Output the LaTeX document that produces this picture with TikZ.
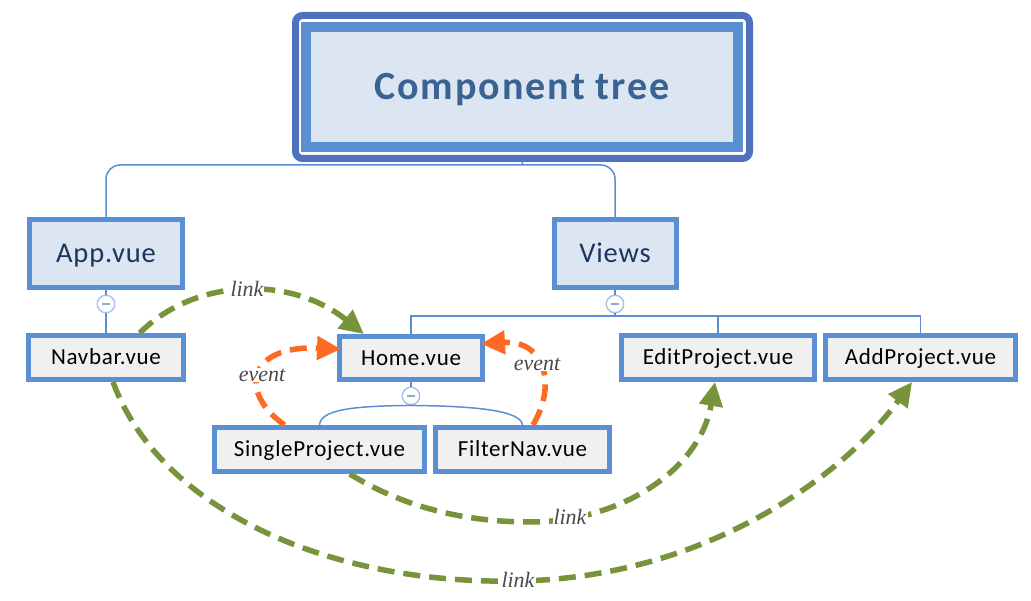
\documentclass[tikz,border=0pt]{standalone}
\usepackage{fontspec}
\setmainfont{Carlito}[LetterSpace=3]
\newfontfamily\rootfont{Carlito}[LetterSpace=5]
\newfontfamily\labfont{Liberation Serif}
\usetikzlibrary{arrows.meta}
\definecolor{rootdark}{HTML}{4F71BE}
\definecolor{boxblue}{HTML}{5A8FD3}
\definecolor{fillone}{HTML}{DCE6F2}
\definecolor{filltwo}{HTML}{F0F0F0}
\definecolor{roottext}{HTML}{3A6293}
\definecolor{navytext}{HTML}{1B365D}
\definecolor{linkgreen}{HTML}{77933C}
\definecolor{eventorange}{HTML}{FF6A23}
\definecolor{minusring}{HTML}{A9BFE8}
\definecolor{minusbar}{HTML}{8EA8D8}
\definecolor{labtext}{HTML}{4A4A4A}
\begin{document}
\begin{tikzpicture}[x=1pt,y=-1pt,
  levelone/.style={draw=boxblue, line width=5pt, fill=fillone, inner sep=0pt,
    minimum height=68pt, text=navytext, font=\fontsize{28.5}{30}\selectfont,
    text height=18.6pt, text depth=0pt},
  leveltwo/.style={draw=boxblue, line width=5pt, fill=filltwo, inner sep=0pt,
    minimum height=44pt, text=black, font=\fontsize{23}{24}\selectfont,
    text height=14.9pt, text depth=0pt},
  conn/.style={draw=boxblue, line width=1.5pt},
  minusnode/.style={circle, draw=minusring, line width=1.4pt, fill=white,
    minimum size=17.5pt, inner sep=0pt},
  linkarrow/.style={draw=linkgreen, line width=5.5pt, dash pattern=on 17pt off 9pt,
    -{Triangle[length=24pt,width=23pt]}},
  eventarrow/.style={draw=eventorange, line width=5.5pt, dash pattern=on 17pt off 9pt,
    -{Triangle[length=24pt,width=23pt]}, shorten >=-4pt},
  lab/.style={fill=white, inner sep=1pt, text=labtext,
    font=\labfont\itshape\fontsize{22}{24}\selectfont}
]
\useasboundingbox (0,0) rectangle (1031,601);

% root
\node[draw=rootdark, line width=7pt, rounded corners=7pt, minimum width=454pt,
  minimum height=143pt, inner sep=0pt] (frame) at (522.5,87) {};
\node[draw=boxblue, line width=10pt, fill=fillone, minimum width=432pt,
  minimum height=120pt, inner sep=0pt, text=roottext,
  font=\rootfont\bfseries\fontsize{40}{42}\selectfont,
  text height=25.8pt, text depth=0pt] (root) at (522,87) {Component tree};

% level one
\node[levelone, minimum width=153pt] (app) at (106,253.5) {App.vue};
\node[levelone, minimum width=122pt] (views) at (615,253.5) {Views};

% level two
\node[leveltwo, minimum width=155pt] (navbar) at (106,357.5) {Navbar.vue};
\node[leveltwo, minimum width=143pt, minimum height=43pt] (home) at (411,358) {Home.vue};
\node[leveltwo, minimum width=193pt] (edit) at (718,357.5) {EditProject.vue};
\node[leveltwo, minimum width=190pt] (add) at (920.5,357.5) {AddProject.vue};
\node[leveltwo, minimum width=210pt] (single) at (319.5,449.5) {SingleProject.vue};
\node[leveltwo, minimum width=174pt] (filter) at (522.5,449.5) {FilterNav.vue};

% tree connectors
\coordinate (rj) at (522,165);
\draw[conn] (frame.south) -- (rj);
\draw[conn, rounded corners=14pt] (app.north) |- (rj) -| (views.north);

\node[minusnode] (m1) at (106,304) {\textcolor{minusbar}{\rule[-0.9pt]{8pt}{1.8pt}}};
\draw[conn] (app.south) -- (m1.north);
\draw[conn] (m1.south) -- (navbar.north);

\node[minusnode] (m2) at (615,304) {\textcolor{minusbar}{\rule[-0.9pt]{8pt}{1.8pt}}};
\coordinate (vj) at (615,316);
\draw[conn] (views.south) -- (m2.north);
\draw[conn] (m2.south) -- (vj);
\draw[conn] (home.north) |- (vj) -| (add.north);
\draw[conn] (vj) -| (edit.north);

\node[minusnode] (m3) at (411,396) {\textcolor{minusbar}{\rule[-0.9pt]{8pt}{1.8pt}}};
\draw[conn] (home.south) -- (m3.north);
\draw[conn] (m3.south) .. controls (350,406) and (321,410) .. (single.north);
\draw[conn] (m3.south) .. controls (472,406) and (521,410) .. (filter.north);

% link arrows
\draw[linkarrow] (navbar.36) .. controls (195,278) and (290,275) .. (home.153);
\draw[linkarrow] (navbar.-74) .. controls (160,510) and (330,585) .. (518,581)
  .. controls (700,578) and (840,480) .. (add.-109);
\draw[linkarrow] (single.-39) .. controls (400,505) and (460,522) .. (530,522)
  .. controls (620,522) and (700,470) .. (edit.-97);

% event arrows
\draw[eventarrow] (single.145) .. controls (238,392) and (248,345) .. (home.173);
\draw[eventarrow] (filter.67) .. controls (557,385) and (545,340) .. (home.11);

% labels
\node[lab] (l1) at (247,289) {link};
\node[lab] (l2) at (570,517) {link};
\node[lab] (l3) at (518,580) {link};
\node[lab] (e1) at (262,375) {event};
\node[lab] (e2) at (537,364) {event};
\end{tikzpicture}
\end{document}
